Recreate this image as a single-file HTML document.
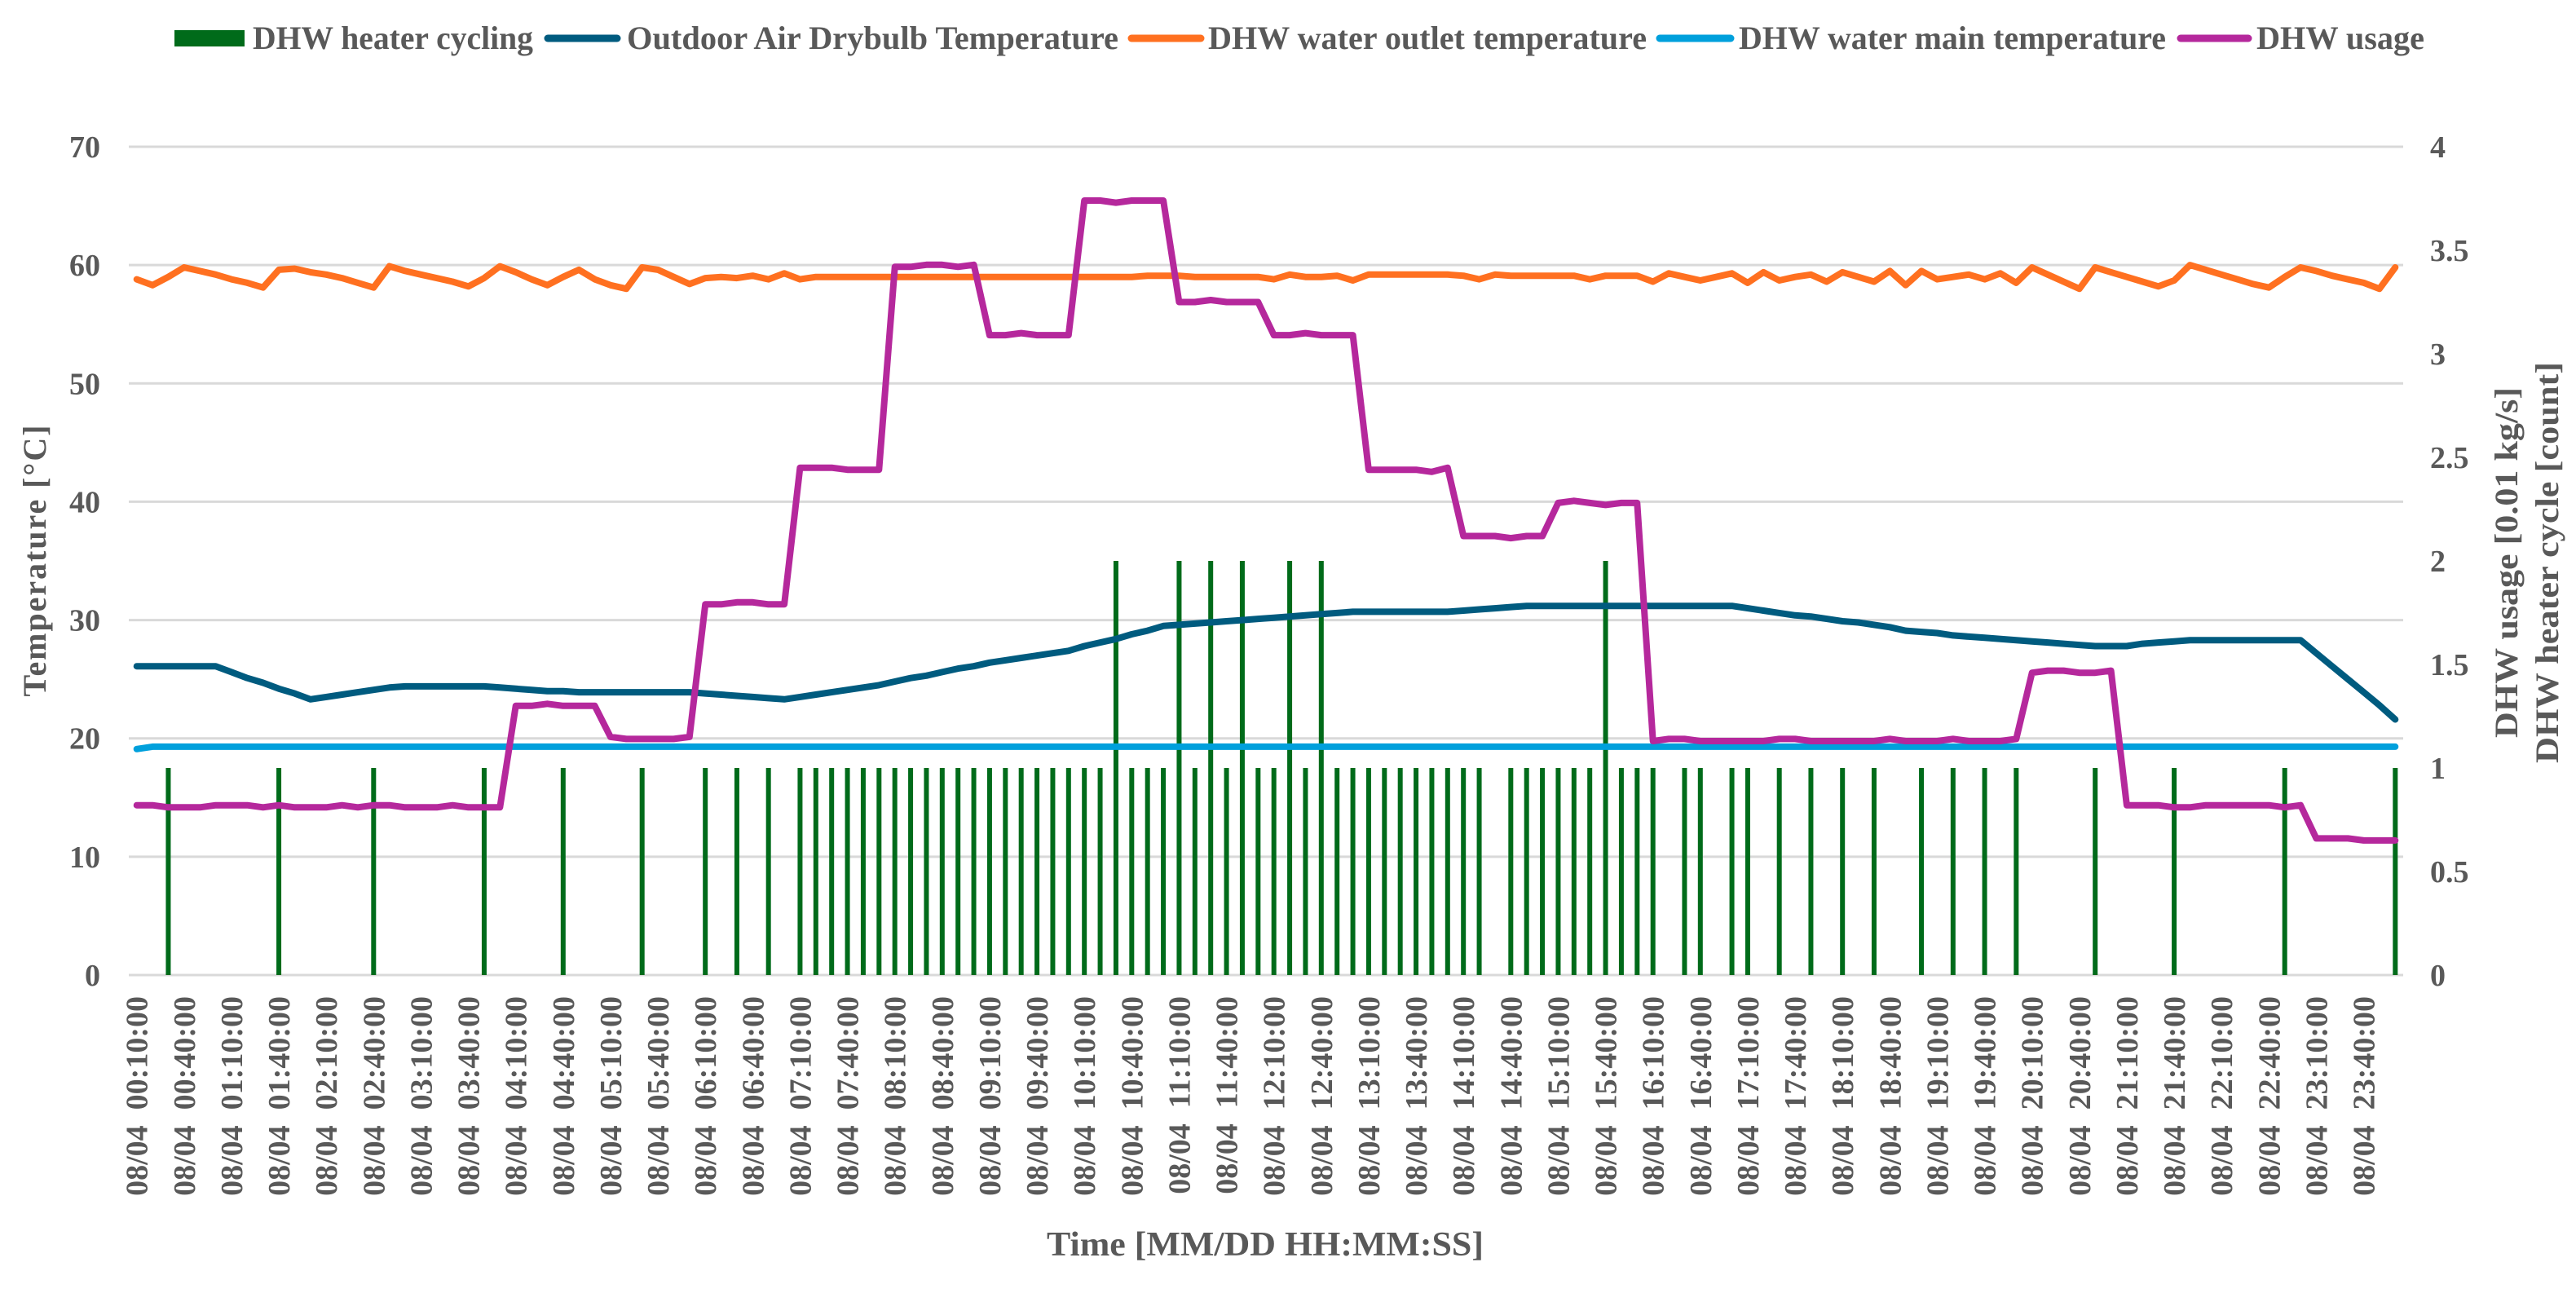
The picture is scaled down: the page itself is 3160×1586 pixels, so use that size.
<!DOCTYPE html>
<html><head><meta charset="utf-8"><title>DHW chart</title>
<style>
html,body{margin:0;padding:0;background:#fff;}
svg{display:block;}
text{font-family:"Liberation Serif",serif;font-weight:bold;fill:#595959;}
</style></head>
<body>
<svg id="chart" xmlns="http://www.w3.org/2000/svg" width="3160" height="1586" viewBox="0 0 3160 1586">
  <g id="legend">
    <rect x="214" y="37" width="86" height="20" fill="#006b1a"/>
    <text x="310" y="60" font-size="40" textLength="344" lengthAdjust="spacingAndGlyphs">DHW heater cycling</text>
    <line x1="672" y1="47" x2="757" y2="47" stroke="#005b7f" stroke-width="9" stroke-linecap="round"/>
    <text x="769" y="60" font-size="40" textLength="603" lengthAdjust="spacingAndGlyphs">Outdoor Air Drybulb Temperature</text>
    <line x1="1388" y1="47" x2="1473" y2="47" stroke="#ff7020" stroke-width="9" stroke-linecap="round"/>
    <text x="1482" y="60" font-size="40" textLength="538" lengthAdjust="spacingAndGlyphs">DHW water outlet temperature</text>
    <line x1="2036" y1="47" x2="2123" y2="47" stroke="#00a0dc" stroke-width="9" stroke-linecap="round"/>
    <text x="2133" y="60" font-size="40" textLength="524" lengthAdjust="spacingAndGlyphs">DHW water main temperature</text>
    <line x1="2675" y1="47" x2="2758" y2="47" stroke="#b5289c" stroke-width="9" stroke-linecap="round"/>
    <text x="2768" y="60" font-size="40" textLength="206" lengthAdjust="spacingAndGlyphs">DHW usage</text>
  </g>
  <g id="grid"></g>
  <g id="yleft"></g>
  <g id="yright"></g>
  <g id="xaxis"></g>
  <g id="bars"></g>
  <g id="lines"></g>
  <text transform="translate(56,688) rotate(-90)" text-anchor="middle" font-size="40" textLength="333" lengthAdjust="spacing">Temperature [°C]</text>
  <text transform="translate(3088,690) rotate(-90)" text-anchor="middle" font-size="40" textLength="430" lengthAdjust="spacingAndGlyphs">DHW usage [0.01 kg/s]</text>
  <text transform="translate(3138,690) rotate(-90)" text-anchor="middle" font-size="40" textLength="492" lengthAdjust="spacingAndGlyphs">DHW heater cycle [count]</text>
  <text x="1552" y="1540" text-anchor="middle" font-size="42" textLength="536" lengthAdjust="spacingAndGlyphs">Time [MM/DD HH:MM:SS]</text>
</svg>
<script>
const leftTicks = [0,10,20,30,40,50,60,70];
const rightTicks = ["0","0.5","1","1.5","2","2.5","3","3.5","4"];
const cycling = [0,0,1,0,0,0,0,0,0,1,0,0,0,0,0,1,0,0,0,0,0,0,1,0,0,0,0,1,0,0,0,0,1,0,0,0,1,0,1,0,1,0,1,1,1,1,1,1,1,1,1,1,1,1,1,1,1,1,1,1,1,1,2,1,1,1,2,1,2,1,2,1,1,2,1,2,1,1,1,1,1,1,1,1,1,1,0,1,1,1,1,1,1,2,1,1,1,0,1,1,0,1,1,0,1,0,1,0,1,0,1,0,0,1,0,1,0,1,0,1,0,0,0,0,1,0,0,0,0,1,0,0,0,0,0,0,1,0,0,0,0,0,0,1];
const outdoorTemp = [26.1,26.1,26.1,26.1,26.1,26.1,25.6,25.1,24.7,24.2,23.8,23.3,23.5,23.7,23.9,24.1,24.3,24.4,24.4,24.4,24.4,24.4,24.4,24.3,24.2,24.1,24.0,24.0,23.9,23.9,23.9,23.9,23.9,23.9,23.9,23.9,23.8,23.7,23.6,23.5,23.4,23.3,23.5,23.7,23.9,24.1,24.3,24.5,24.8,25.1,25.3,25.6,25.9,26.1,26.4,26.6,26.8,27.0,27.2,27.4,27.8,28.1,28.4,28.8,29.1,29.5,29.6,29.7,29.8,29.9,30.0,30.1,30.2,30.3,30.4,30.5,30.6,30.7,30.7,30.7,30.7,30.7,30.7,30.7,30.8,30.9,31.0,31.1,31.2,31.2,31.2,31.2,31.2,31.2,31.2,31.2,31.2,31.2,31.2,31.2,31.2,31.2,31.0,30.8,30.6,30.4,30.3,30.1,29.9,29.8,29.6,29.4,29.1,29.0,28.9,28.7,28.6,28.5,28.4,28.3,28.2,28.1,28.0,27.9,27.8,27.8,27.8,28.0,28.1,28.2,28.3,28.3,28.3,28.3,28.3,28.3,28.3,28.3,27.2,26.1,25.0,23.9,22.8,21.6];
const outletTemp = [58.8,58.3,59.0,59.8,59.5,59.2,58.8,58.5,58.1,59.6,59.7,59.4,59.2,58.9,58.5,58.1,59.9,59.5,59.2,58.9,58.6,58.2,58.9,59.9,59.4,58.8,58.3,59.0,59.6,58.8,58.3,58.0,59.8,59.6,59.0,58.4,58.9,59.0,58.9,59.1,58.8,59.3,58.8,59.0,59.0,59.0,59.0,59.0,59.0,59.0,59.0,59.0,59.0,59.0,59.0,59.0,59.0,59.0,59.0,59.0,59.0,59.0,59.0,59.0,59.1,59.1,59.1,59.0,59.0,59.0,59.0,59.0,58.8,59.2,59.0,59.0,59.1,58.7,59.2,59.2,59.2,59.2,59.2,59.2,59.1,58.8,59.2,59.1,59.1,59.1,59.1,59.1,58.8,59.1,59.1,59.1,58.6,59.3,59.0,58.7,59.0,59.3,58.5,59.4,58.7,59.0,59.2,58.6,59.4,59.0,58.6,59.5,58.3,59.5,58.8,59.0,59.2,58.8,59.3,58.5,59.8,59.2,58.6,58.0,59.8,59.4,59.0,58.6,58.2,58.7,60.0,59.6,59.2,58.8,58.4,58.1,59.0,59.8,59.5,59.1,58.8,58.5,58.0,59.8];
const mainTemp = [19.1,19.3,19.3,19.3,19.3,19.3,19.3,19.3,19.3,19.3,19.3,19.3,19.3,19.3,19.3,19.3,19.3,19.3,19.3,19.3,19.3,19.3,19.3,19.3,19.3,19.3,19.3,19.3,19.3,19.3,19.3,19.3,19.3,19.3,19.3,19.3,19.3,19.3,19.3,19.3,19.3,19.3,19.3,19.3,19.3,19.3,19.3,19.3,19.3,19.3,19.3,19.3,19.3,19.3,19.3,19.3,19.3,19.3,19.3,19.3,19.3,19.3,19.3,19.3,19.3,19.3,19.3,19.3,19.3,19.3,19.3,19.3,19.3,19.3,19.3,19.3,19.3,19.3,19.3,19.3,19.3,19.3,19.3,19.3,19.3,19.3,19.3,19.3,19.3,19.3,19.3,19.3,19.3,19.3,19.3,19.3,19.3,19.3,19.3,19.3,19.3,19.3,19.3,19.3,19.3,19.3,19.3,19.3,19.3,19.3,19.3,19.3,19.3,19.3,19.3,19.3,19.3,19.3,19.3,19.3,19.3,19.3,19.3,19.3,19.3,19.3,19.3,19.3,19.3,19.3,19.3,19.3,19.3,19.3,19.3,19.3,19.3,19.3,19.3,19.3,19.3,19.3,19.3,19.3];
const usage = [0.82,0.82,0.81,0.81,0.81,0.82,0.82,0.82,0.81,0.82,0.81,0.81,0.81,0.82,0.81,0.82,0.82,0.81,0.81,0.81,0.82,0.81,0.81,0.81,1.30,1.30,1.31,1.30,1.30,1.30,1.15,1.14,1.14,1.14,1.14,1.15,1.79,1.79,1.80,1.80,1.79,1.79,2.45,2.45,2.45,2.44,2.44,2.44,3.42,3.42,3.43,3.43,3.42,3.43,3.09,3.09,3.10,3.09,3.09,3.09,3.74,3.74,3.73,3.74,3.74,3.74,3.25,3.25,3.26,3.25,3.25,3.25,3.09,3.09,3.10,3.09,3.09,3.09,2.44,2.44,2.44,2.44,2.43,2.45,2.12,2.12,2.12,2.11,2.12,2.12,2.28,2.29,2.28,2.27,2.28,2.28,1.13,1.14,1.14,1.13,1.13,1.13,1.13,1.13,1.14,1.14,1.13,1.13,1.13,1.13,1.13,1.14,1.13,1.13,1.13,1.14,1.13,1.13,1.13,1.14,1.46,1.47,1.47,1.46,1.46,1.47,0.82,0.82,0.82,0.81,0.81,0.82,0.82,0.82,0.82,0.82,0.81,0.82,0.66,0.66,0.66,0.65,0.65,0.65];
const dateLabel = "08/04";

const NS = "http://www.w3.org/2000/svg";
const X0 = 158, X1 = 2948, Y0 = 1196, Y1 = 180;
const N = outdoorTemp.length;
const step = (X1 - X0) / N;
function xPos(i){ return X0 + step * (i + 0.5); }
function yLeft(v){ return Y0 - (v / 70) * (Y0 - Y1); }
function yRight(v){ return Y0 - (v / 4) * (Y0 - Y1); }
function mk(tag, attrs, parent){
  const el = document.createElementNS(NS, tag);
  for (const k in attrs) el.setAttribute(k, attrs[k]);
  parent.appendChild(el);
  return el;
}
function pad(n){ return (n < 10 ? "0" : "") + n; }
function timeLabel(i){
  const m = 10 + i * 10;
  return pad(Math.floor(m / 60)) + ":" + pad(m % 60) + ":00";
}

const grid = document.getElementById("grid");
const yl = document.getElementById("yleft");
const yr = document.getElementById("yright");
leftTicks.forEach(v => {
  const g = mk("line", {x1: X0, x2: X1, y1: yLeft(v), y2: yLeft(v), stroke: "#d9d9d9", "stroke-width": 3}, grid);
  
  
  const t = mk("text", {x: 123, y: yLeft(v) + 13, "text-anchor": "end", "font-size": 38}, yl);
  
  
  t.textContent = v;
});
rightTicks.forEach(s => {
  const t = mk("text", {x: 2981, y: yRight(parseFloat(s)) + 13, "font-size": 38}, yr);
  
  
  t.textContent = s;
});

const xa = document.getElementById("xaxis");
for (let i = 0; i < N; i += 3) {
  const x = xPos(i);
  const t = mk("text", {transform: "translate(" + (x + 13) + ",1222) rotate(-90)", "text-anchor": "end", "font-size": 38}, xa);
  
  
  t.style.whiteSpace = "pre";
  t.textContent = dateLabel + "\u00a0\u00a0" + timeLabel(i);
}

const bars = document.getElementById("bars");
cycling.forEach((v, i) => {
  if (!v) return;
  const r = mk("rect", {x: xPos(i) - 3, y: yRight(v), width: 6, height: Y0 - yRight(v), fill: "#006b1a"}, bars);
  
  
});

const lines = document.getElementById("lines");
function series(data, yf, color, name){
  const pts = data.map((v, i) => xPos(i).toFixed(1) + "," + yf(v).toFixed(1)).join(" ");
  const p = mk("polyline", {points: pts, fill: "none", stroke: color, "stroke-width": 8, "stroke-linejoin": "round", "stroke-linecap": "round"}, lines);
  
  
}
series(outdoorTemp, yLeft, "#005b7f", "outdoor-temp-line");
series(outletTemp, yLeft, "#ff7020", "outlet-temp-line");
series(mainTemp, yLeft, "#00a0dc", "main-temp-line");
series(usage, yRight, "#b5289c", "usage-line");
</script>
</body></html>
